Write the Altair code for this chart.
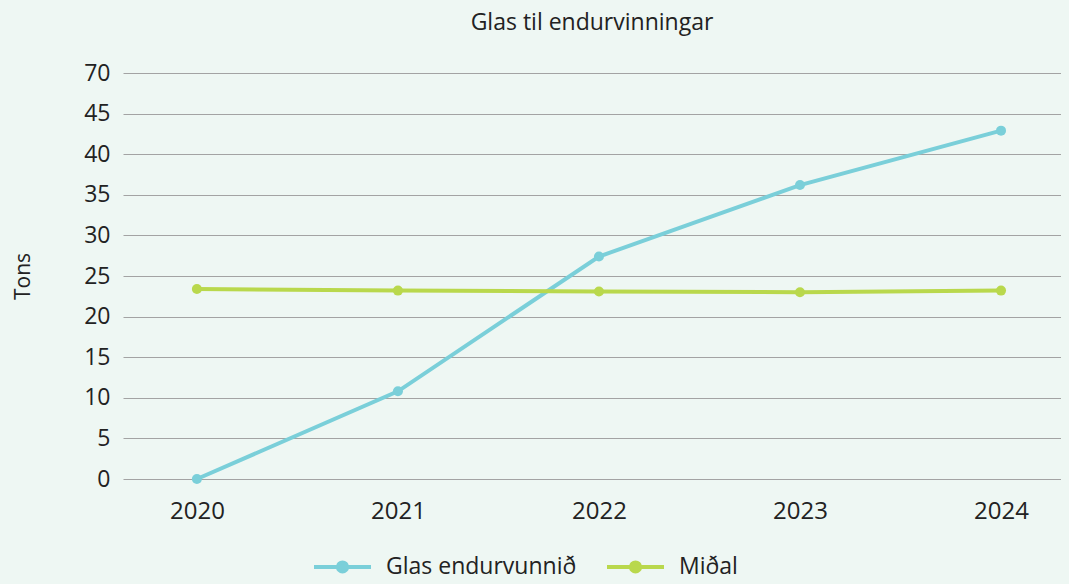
import altair as alt
import pandas as pd

years = ["2020", "2021", "2022", "2023", "2024"]
glas = [0.0, 10.8, 27.4, 36.2, 42.9]
midal = [23.4, 23.2, 23.1, 23.0, 23.2]
series_names = ["Glas endurvunnið", "Miðal"]
colors = ["#7ACFD9", "#B9D84C"]
y_ticks = [0, 5, 10, 15, 20, 25, 30, 35, 40, 45, 70]

BG = "#EEF7F3"

# give the page itself the chart's background colour (the 8px body margin)
try:
    import altair.utils.html as _h
    _orig = _h.TEMPLATES["standard"]

    class _Wrapped:
        def render(self, *args, **kwargs):
            html = _orig.render(*args, **kwargs)
            style = "<style>html,body{background:%s;}</style>" % BG
            if "</head>" in html:
                return html.replace("</head>", style + "</head>", 1)
            return style + html

    _h.TEMPLATES["standard"] = _Wrapped()
except Exception:
    pass

rows = []
for y, a, b in zip(years, glas, midal):
    rows.append({"year": y, "series": series_names[0], "value": a})
    rows.append({"year": y, "series": series_names[1], "value": b})
df = pd.DataFrame(rows)

W, H = 938, 406
FONT = "Open Sans"

sym_path = "M-1,0H1M0.16,0A0.16,0.16,0,1,1,-0.16,0A0.16,0.16,0,1,1,0.16,0Z"

legend = alt.Legend(title=None, orient="none", direction="horizontal",
                    legendX=189, legendY=463, padding=0,
                    symbolType=sym_path, symbolSize=3249,
                    symbolStrokeWidth=4, labelFontSize=23, labelLimit=400,
                    labelFont=FONT, labelColor="#222222",
                    columnPadding=22, labelOffset=13)

base = alt.Chart(df).encode(
    x=alt.X("year:N", sort=years, title=None,
            scale=alt.Scale(type="point", padding=0.333, align=0.552),
            axis=alt.Axis(labelAngle=0, ticks=False, domain=False, grid=False,
                          labelPadding=20, labelFontSize=24, labelColor="#222222",
                          labelFont=FONT)),
    y=alt.Y("value:Q", title="Tons",
            scale=alt.Scale(domain=[0, 45, 70], range=[H, H * (1 - 45 / 50), 0],
                            nice=False, zero=False),
            axis=alt.Axis(values=y_ticks, ticks=False, domain=False,
                          gridColor="#A3A3A3", gridWidth=1.2,
                          labelPadding=13, labelFontSize=23, labelColor="#222222",
                          labelFont=FONT, titleFont=FONT, titleFontSize=21,
                          titleFontWeight="normal", titleColor="#222222",
                          titlePadding=50)),
)

lines = base.mark_line(strokeWidth=4).encode(
    stroke=alt.Stroke("series:N", sort=series_names,
                      scale=alt.Scale(domain=series_names, range=colors),
                      legend=legend))
points = base.mark_circle(size=100, opacity=1).encode(
    fill=alt.Fill("series:N", sort=series_names,
                  scale=alt.Scale(domain=series_names, range=colors),
                  legend=legend))

chart = (lines + points).properties(
    width=W, height=H,
    background=BG,
    padding={"left": 115, "top": 65, "right": 0, "bottom": 97},
    autosize=alt.AutoSizeParams(type="none"),
    title=alt.Title("Glas til endurvinningar", fontSize=23, font=FONT,
                    fontWeight="normal", color="#222222", offset=27, anchor="middle"),
).configure_view(stroke=None)

chart.save("out.html", embed_options={"renderer": "svg", "actions": False})
